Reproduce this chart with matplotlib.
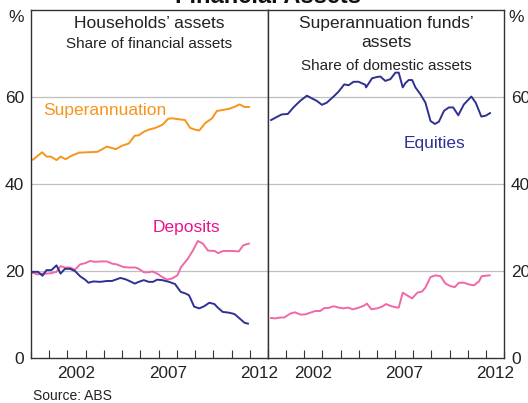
import matplotlib.pyplot as plt

plt.rcParams['font.family'] = ['Liberation Sans', 'DejaVu Sans']

# Households' assets (left panel): decimal year, per cent
super_x = [2000.11, 2000.61, 2000.85, 2001.09, 2001.4, 2001.62, 2001.9, 2002.23, 2002.63,
           2003.15, 2003.65, 2004.16, 2004.66, 2004.99, 2005.36, 2005.69, 2005.91, 2006.19,
           2006.46, 2006.83, 2007.2, 2007.53, 2007.75, 2008.08, 2008.44, 2008.73, 2008.99,
           2009.23, 2009.56, 2009.93, 2010.2, 2010.51, 2010.88, 2011.2, 2011.44, 2011.71, 2011.95]
super_y = [45.6, 47.3, 46.3, 46.3, 45.5, 46.3, 45.7, 46.5, 47.2,
           47.3, 47.4, 48.6, 48.0, 48.8, 49.3, 51.1, 51.2, 52.0,
           52.5, 52.9, 53.6, 55.0, 55.1, 54.9, 54.7, 52.9, 52.5,
           52.3, 54.0, 55.1, 56.8, 57.0, 57.3, 57.8, 58.3, 57.7, 57.7]

dep_hh_x = [2000.0, 2000.17, 2000.35, 2000.57, 2000.85, 2001.12, 2001.4, 2001.62, 2001.86, 2002.14,
            2002.41, 2002.69, 2002.97, 2003.24, 2003.52, 2003.8, 2004.16, 2004.44, 2004.71,
            2005.08, 2005.36, 2005.73, 2005.91, 2006.19, 2006.46, 2006.65, 2006.92, 2007.2,
            2007.48, 2007.75, 2008.03, 2008.23, 2008.6, 2008.88, 2009.15, 2009.43, 2009.7,
            2010.07, 2010.26, 2010.54, 2011.0, 2011.4, 2011.64, 2011.95]
dep_hh_y = [19.6, 19.5, 19.2, 19.4, 19.4, 19.5, 19.8, 21.1, 20.8, 20.8,
            20.3, 21.5, 21.8, 22.3, 22.1, 22.2, 22.2, 21.7, 21.5,
            20.9, 20.8, 20.8, 20.5, 19.7, 19.7, 19.9, 19.4, 18.6,
            18.0, 18.3, 19.0, 20.9, 22.8, 24.7, 26.9, 26.3, 24.7,
            24.6, 24.1, 24.6, 24.6, 24.5, 25.9, 26.3]

eq_hh_x = [2000.0, 2000.17, 2000.39, 2000.63, 2000.85, 2001.12, 2001.4, 2001.62, 2001.86, 2002.14,
           2002.41, 2002.69, 2002.97, 2003.15, 2003.43, 2003.8, 2004.16, 2004.44, 2004.9,
           2005.18, 2005.45, 2005.69, 2005.91, 2006.19, 2006.46, 2006.69, 2006.92, 2007.2,
           2007.57, 2007.9, 2008.21, 2008.49, 2008.67, 2008.95, 2009.23, 2009.5, 2009.78,
           2010.06, 2010.24, 2010.51, 2010.88, 2011.16, 2011.44, 2011.71, 2011.9]
eq_hh_y = [19.8, 19.8, 19.8, 18.9, 20.2, 20.2, 21.3, 19.4, 20.5, 20.5,
           20.0, 18.8, 18.0, 17.3, 17.6, 17.5, 17.7, 17.7, 18.4,
           18.1, 17.6, 17.1, 17.5, 17.9, 17.5, 17.5, 18.0, 17.9,
           17.5, 17.0, 15.2, 14.8, 14.4, 11.8, 11.4, 11.9, 12.7,
           12.4, 11.6, 10.6, 10.4, 10.1, 9.1, 8.1, 7.9]

# Superannuation funds' assets (right panel)
eq_sf_x = [2000.17, 2000.48, 2000.76, 2001.09, 2001.4, 2001.77, 2002.14, 2002.5, 2002.69, 2002.97,
           2003.24, 2003.61, 2003.88, 2004.2, 2004.44, 2004.71, 2004.99, 2005.36, 2005.4, 2005.73,
           2006.0, 2006.19, 2006.46, 2006.74, 2007.02, 2007.2, 2007.42, 2007.57, 2007.75, 2007.94,
           2008.12, 2008.4, 2008.67, 2008.95, 2009.19, 2009.41, 2009.69, 2009.96, 2010.2, 2010.48,
           2010.79, 2011.2, 2011.44, 2011.75, 2011.99, 2012.23]
eq_sf_y = [54.7, 55.4, 56.0, 56.1, 57.6, 59.1, 60.3, 59.5, 59.1, 58.2,
           58.7, 60.1, 61.2, 62.9, 62.7, 63.5, 63.5, 62.8, 62.2, 64.3,
           64.6, 64.7, 63.7, 64.1, 65.6, 65.6, 62.2, 63.2, 63.9, 63.9,
           62.2, 60.6, 58.7, 54.5, 53.8, 54.3, 56.8, 57.6, 57.6, 55.8,
           58.3, 60.1, 58.7, 55.5, 55.7, 56.3]

dep_sf_x = [2000.17, 2000.39, 2000.66, 2000.9, 2001.22, 2001.49, 2001.77, 2002.04, 2002.32, 2002.6,
            2002.87, 2003.11, 2003.33, 2003.61, 2003.88, 2004.16, 2004.4, 2004.66, 2004.96, 2005.27,
            2005.45, 2005.69, 2006.0, 2006.28, 2006.5, 2006.8, 2007.11, 2007.2, 2007.42, 2007.66,
            2007.94, 2008.22, 2008.49, 2008.67, 2008.95, 2009.23, 2009.5, 2009.78, 2010.06, 2010.29,
            2010.51, 2010.79, 2011.07, 2011.34, 2011.62, 2011.77, 2012.21]
dep_sf_y = [9.2, 9.1, 9.3, 9.3, 10.2, 10.5, 10.0, 10.0, 10.4, 10.8,
            10.8, 11.5, 11.5, 11.9, 11.6, 11.4, 11.6, 11.2, 11.5, 12.0,
            12.5, 11.2, 11.4, 11.8, 12.4, 11.9, 11.6, 11.6, 15.0, 14.4,
            13.7, 15.0, 15.3, 16.2, 18.6, 19.0, 18.8, 17.1, 16.5, 16.3,
            17.3, 17.3, 16.9, 16.7, 17.6, 18.8, 19.0]

years = list(range(2000, 2014))
year_labels = [2002, 2007, 2012]
y_ticks = [0, 20, 40, 60]

ORANGE = '#F7941D'
PINK = '#F068A8'
PINK_TXT = '#E8168B'
NAVY = '#2E3192'
GRID = '#BFBFBF'
TXT = '#222222'

fig = plt.figure(figsize=(5.28, 4.03), dpi=100)
ax1 = fig.add_axes([0.0587, 0.1117, 0.4489, 0.8635])
ax2 = fig.add_axes([0.5076, 0.1117, 0.4470, 0.8635])

for ax in (ax1, ax2):
    ax.set_xlim(2000, 2013)
    ax.set_ylim(0, 80)
    for v in y_ticks[1:]:
        ax.axhline(v, color=GRID, lw=0.9, zorder=0)
    ax.set_yticks(y_ticks)
    ax.set_xticks(years)
    ax.set_xticklabels([])
    ax.set_xticks([y + 0.5 for y in year_labels], minor=True)
    ax.set_xticklabels([str(y) for y in year_labels], minor=True, fontsize=12.3)
    ax.tick_params(axis='x', which='major', direction='in', length=6, width=0.8, color='#333333')
    ax.tick_params(axis='x', which='minor', length=0, pad=6, labelcolor=TXT)
    ax.tick_params(axis='y', length=0, labelsize=12.5, labelcolor=TXT, pad=5)
    for s in ax.spines.values():
        s.set_color('#333333')
        s.set_linewidth(1.0)

ax2.yaxis.tick_right()
ax2.tick_params(axis='y', length=0, pad=5)

ax1.plot(super_x, super_y, color=ORANGE, lw=1.4)
ax1.plot(dep_hh_x, dep_hh_y, color=PINK, lw=1.4)
ax1.plot(eq_hh_x, eq_hh_y, color=NAVY, lw=1.4)
ax2.plot(eq_sf_x, eq_sf_y, color=NAVY, lw=1.4)
ax2.plot(dep_sf_x, dep_sf_y, color=PINK, lw=1.4)

ax1.text(0.5, 0.982, 'Households\u2019 assets', transform=ax1.transAxes, ha='center', va='top',
         fontsize=12.5, color=TXT)
ax1.text(0.5, 0.922, 'Share of financial assets', transform=ax1.transAxes, ha='center', va='top',
         fontsize=11, color=TXT)
ax2.text(0.5, 0.982, 'Superannuation funds\u2019\nassets', transform=ax2.transAxes, ha='center',
         va='top', fontsize=12.5, color=TXT, linespacing=1.35)
ax2.text(0.5, 0.858, 'Share of domestic assets', transform=ax2.transAxes, ha='center', va='top',
         fontsize=11, color=TXT)

ax1.text(2000.65, 56.9, 'Superannuation', color=ORANGE, fontsize=12.5, va='center')
ax1.text(2008.5, 30.0, 'Deposits', color=PINK_TXT, fontsize=12.5, ha='center', va='center')
ax2.text(2009.15, 49.3, 'Equities', color=NAVY, fontsize=12.5, ha='center', va='center')

fig.text(16 / 528, 1 - 18 / 403, '%', ha='center', va='center', fontsize=12.5, color=TXT)
fig.text(516 / 528, 1 - 18 / 403, '%', ha='center', va='center', fontsize=12.5, color=TXT)
fig.text(0.5076, 0.992, 'Financial Assets', ha='center', va='baseline', fontsize=17,
         fontweight='bold', color='#111111')
fig.text(33 / 528, 1 - 396 / 403, 'Source: ABS', ha='left', va='center', fontsize=10, color=TXT)

fig.savefig('out.png', dpi=100)
